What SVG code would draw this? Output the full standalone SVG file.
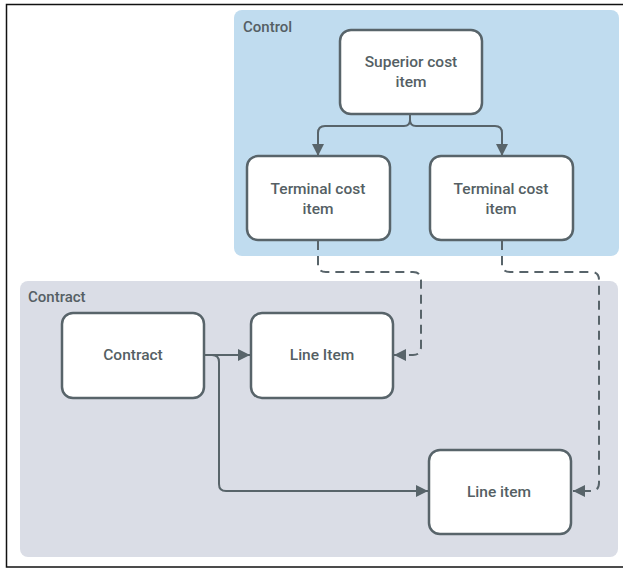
<svg xmlns="http://www.w3.org/2000/svg" width="623" height="569" viewBox="0 0 623 569">
<defs>
<style>
.node rect{fill:#fff;stroke:#58646a;stroke-width:2.5}
.node text,.lbl{font-family:Roboto,"Noto Sans",sans-serif;font-weight:500;fill:#555f64;text-anchor:middle;dominant-baseline:central}
.node text{font-size:15.5px}
.lbl{font-size:15px;text-anchor:start}
.c{fill:none;stroke:#58646a;stroke-width:2}
.d{stroke-dasharray:9 6}
</style>
<marker id="ah2" viewBox="0 0 10 10" refX="10" refY="5" markerWidth="14" markerHeight="12" markerUnits="userSpaceOnUse" orient="auto">
<path d="M0,0 L10,5 L0,10 z" fill="#58646a"/>
</marker>
</defs>
<rect x="0" y="0" width="623" height="569" fill="#fff"/>
<rect x="6.5" y="4.5" width="620" height="562.5" fill="none" stroke="#111" stroke-width="1.5"/>
<g id="group-control">
<rect x="234" y="10" width="385" height="246" rx="8" fill="#c0dcef"/>
<text class="lbl" x="243" y="27">Control</text>
</g>
<g id="group-contract">
<rect x="20" y="281" width="598" height="276" rx="8" fill="#dadde6"/>
<text class="lbl" x="28" y="297">Contract</text>
</g>
<g id="connectors">
<path class="c" marker-end="url(#ah2)" d="M410,114 V120 Q410,126 404,126 H325 Q318,126 318,133 V156"/>
<path class="c" marker-end="url(#ah2)" d="M410,114 V120 Q410,126 416,126 H495 Q502,126 502,133 V156"/>
<path class="c" marker-end="url(#ah2)" d="M205,355 H250"/>
<path class="c" marker-end="url(#ah2)" d="M205,355 H212 Q219,355 219,362 V484 Q219,491 226,491 H428"/>
<path class="c d" marker-end="url(#ah2)" d="M318,241 V264 Q318,272 326,272 H413 Q421,272 421,280 V347 Q421,355 413,355 H394"/>
<path class="c d" marker-end="url(#ah2)" d="M502,241 V264 Q502,272 510,272 H591 Q599,272 599,280 V483 Q599,491 591,491 H573"/>
</g>
<g id="superior" class="node">
<rect x="340" y="30" width="142" height="84" rx="11"/>
<text x="411" y="62">Superior cost</text>
<text x="411" y="82">item</text>
</g>
<g id="terminal1" class="node">
<rect x="247" y="156" width="143" height="84" rx="11"/>
<text x="318" y="189">Terminal cost</text>
<text x="318" y="209">item</text>
</g>
<g id="terminal2" class="node">
<rect x="430" y="156" width="143" height="84" rx="11"/>
<text x="501" y="189">Terminal cost</text>
<text x="501" y="209">item</text>
</g>
<g id="contract" class="node">
<rect x="62" y="313" width="142" height="85" rx="11"/>
<text x="133" y="355">Contract</text>
</g>
<g id="lineitem1" class="node">
<rect x="251" y="313" width="142" height="85" rx="11"/>
<text x="322" y="355">Line Item</text>
</g>
<g id="lineitem2" class="node">
<rect x="429" y="450" width="142" height="84" rx="11"/>
<text x="499" y="492">Line item</text>
</g>
</svg>
